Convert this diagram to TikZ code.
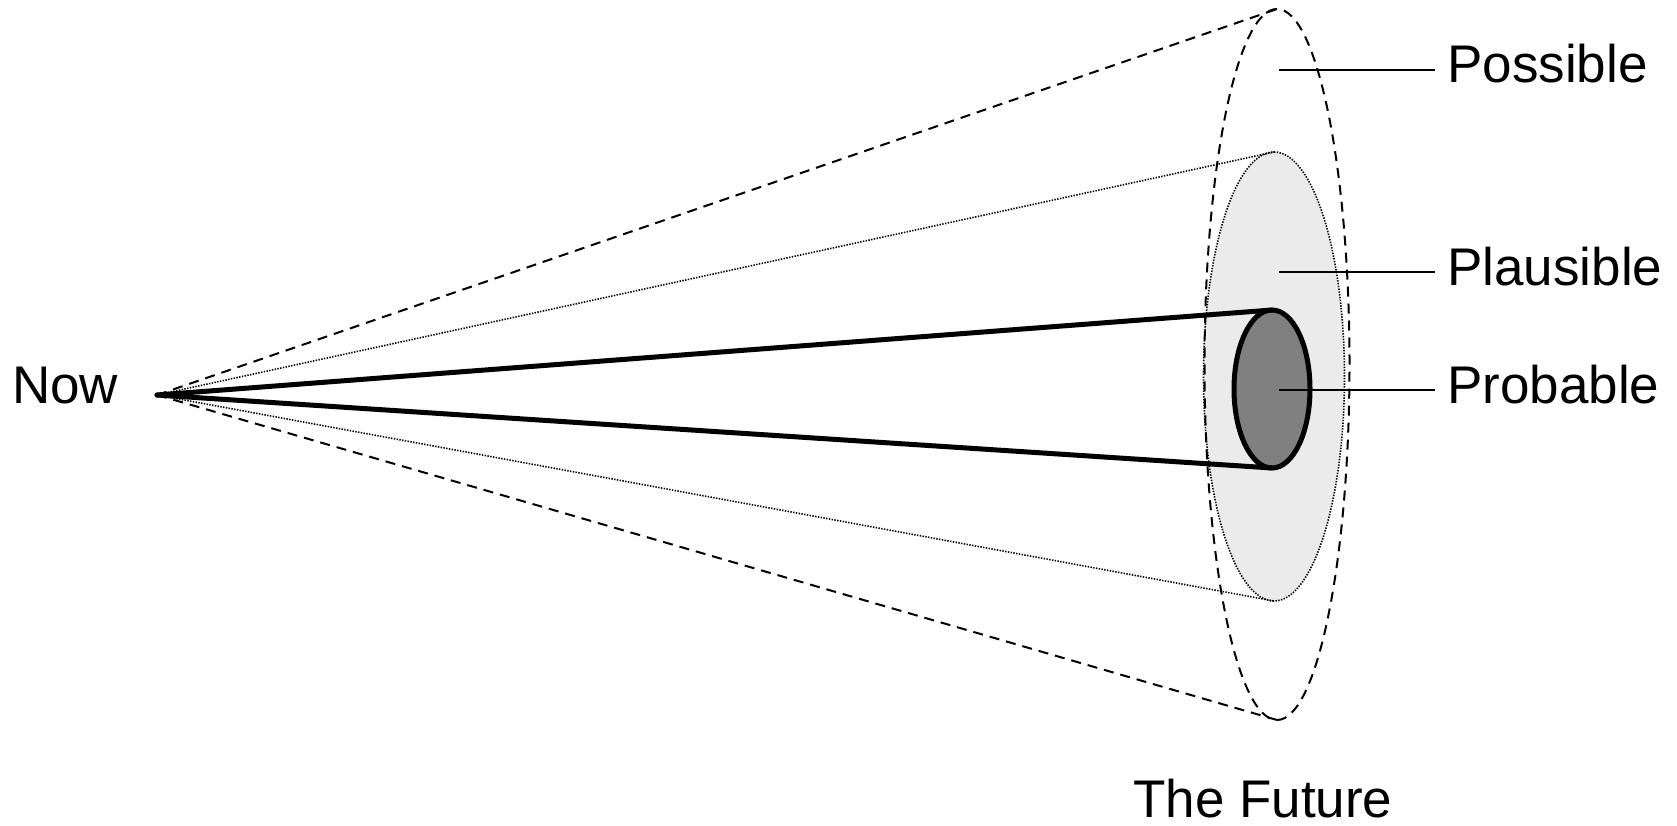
\documentclass[tikz,border=0pt]{standalone}
\usepackage{fontspec}
\setmainfont{Liberation Sans}
\usetikzlibrary{shapes.geometric}
\begin{document}
\begin{tikzpicture}[x=1pt,y=-1pt,
  lbl/.style={font=\fontsize{53}{60}\selectfont, inner sep=0pt, text height=26pt, text depth=0pt},
  ell/.style={ellipse, inner sep=0pt, outer sep=0pt},
  dsh/.style={line width=2pt, dash pattern=on 10pt off 7pt},
  dtt/.style={line width=1.6pt, dash pattern=on 1.4pt off 1.4pt},
  thk/.style={line width=5pt, line cap=round, line join=round},
  leader/.style={line width=1.7pt}
]
\useasboundingbox (0,0) rectangle (1677,826);
\fill[white] (0,0) rectangle (1677,826);
\coordinate (apex) at (157,395);
% plausible fill
\node[ell, fill={rgb,255:red,235;green,235;blue,235}, minimum width=141pt, minimum height=449pt] (plaus) at (1274,376.5) {};
\node[ell, dsh, draw, minimum width=145pt, minimum height=711pt] (poss) at (1277,364.5) {};
\node[ell, dtt, draw, minimum width=141pt, minimum height=449pt] at (plaus.center) {};
\draw[dsh] (apex) -- (poss.north);
\draw[dsh] (apex) -- (poss.south);
\draw[dtt] (apex) -- (plaus.north);
\draw[dtt] (apex) -- (plaus.south);
\node[ell, thk, draw, fill={rgb,255:red,128;green,128;blue,128}, minimum width=76pt, minimum height=158pt] (prob) at (1272,389) {};
\draw[thk] (apex) -- (prob.north);
\draw[thk] (apex) -- (prob.south);
% labels
\node[lbl, anchor=west] (tposs) at (1447,70) {Possible};
\node[lbl, anchor=west] (tplaus) at (1447,272) {Plausible};
\node[lbl, anchor=west] (tprob) at (1447,390) {Probable};
\coordinate (lposs) at (1279,70);
\coordinate (lplaus) at (1279,272);
\coordinate (lprob) at (1279,390);
\draw[leader] (lposs) -- ([xshift=-12pt]tposs.west);
\draw[leader] (lplaus) -- ([xshift=-12pt]tplaus.west);
\draw[leader] (lprob) -- ([xshift=-12pt]tprob.west);
\node[lbl, anchor=base west] (now) at (12,403) {Now};
\node[lbl, anchor=base west] (future) at (1133,817) {The Future};
\end{tikzpicture}
\end{document}
